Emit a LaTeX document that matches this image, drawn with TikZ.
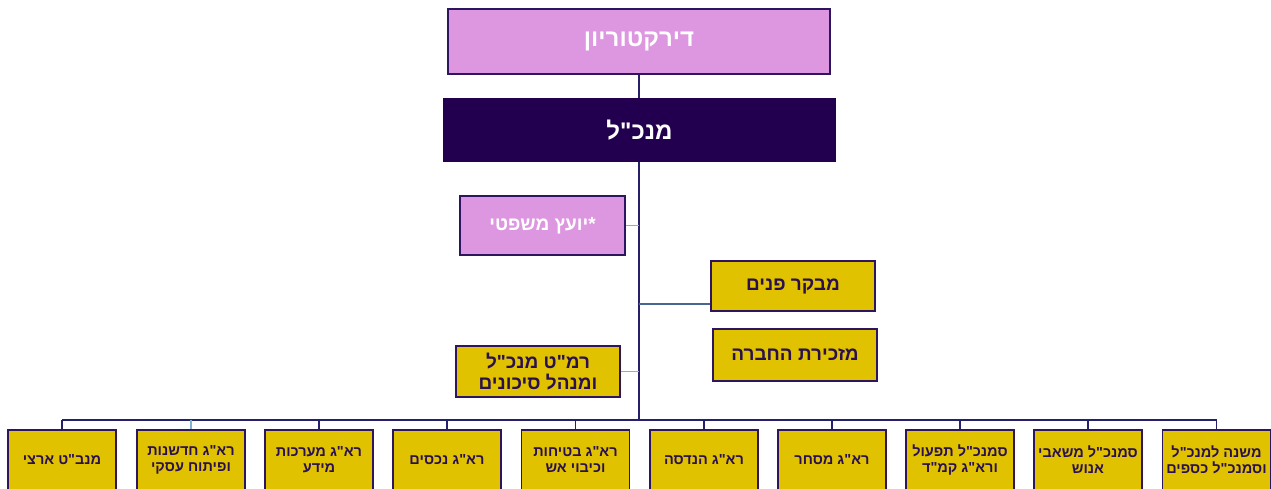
\documentclass[tikz,border=0pt]{standalone}
\usepackage{fontspec}
\newfontfamily\hebfont[Script=Hebrew]{Liberation Sans}
\TeXXeTstate=1
\definecolor{pinkfill}{HTML}{DD96E0}
\definecolor{ceofill}{HTML}{22004F}
\definecolor{goldfill}{HTML}{E0C200}
\definecolor{boxline}{HTML}{2E1560}
\definecolor{navy}{HTML}{26206A}
\definecolor{lightblue}{HTML}{82B0D2}
\definecolor{steel}{HTML}{4A6494}
\definecolor{txtdark}{HTML}{2A1050}
\tikzset{
  box/.style={draw=boxline, line width=1.6pt, inner sep=0pt, align=center, font=\hebfont\bfseries},
  pinkbox/.style={box, fill=pinkfill, text=white},
  goldbox/.style={box, fill=goldfill, text=txtdark},
  unitbox/.style={goldbox, minimum width=108, minimum height=60, font=\hebfont\bfseries\fontsize{14.5}{16}\selectfont},
  midbox/.style={font=\hebfont\bfseries\fontsize{19}{21.5}\selectfont},
  mainline/.style={draw=navy, line width=2pt},
  lightline/.style={draw=lightblue, line width=1.8pt},
}
\begin{document}
\begin{tikzpicture}[x=1pt,y=-1pt]
\useasboundingbox (0,0) rectangle (1271,488);
\clip (0,0) rectangle (1271,488);
% top
\node[pinkbox, minimum width=382, minimum height=65, font=\hebfont\bfseries\fontsize{24}{28}\selectfont] (dir) at (639,41.5) {\beginR דירקטוריון\endR};
\node[box, fill=ceofill, text=white, draw=ceofill, minimum width=391, minimum height=62, font=\hebfont\bfseries\fontsize{24}{28}\selectfont] (ceo) at (639.5,130) {\beginR מנכ"ל\endR};
% staff
\node[pinkbox, midbox, minimum width=165, minimum height=59] (legal) at (542.5,225.5) {\beginR *יועץ משפטי\endR};
\node[goldbox, midbox, minimum width=164, minimum height=50] (audit) at (793,286) {\beginR מבקר פנים\endR};
\node[goldbox, midbox, minimum width=164, minimum height=52] (sec) at (795,355) {\beginR מזכירת החברה\endR};
\node[goldbox, midbox, minimum width=164, minimum height=51] (cos) at (538,371.5) {\beginR רמ"ט מנכ"ל\endR\\\beginR ומנהל סיכונים\endR};
% bottom units
\node[unitbox] (b1) at (62,460) {\beginR מנב"ט ארצי\endR};
\node[unitbox] (b2) at (191,460) {\beginR רא"ג חדשנות\endR\\\beginR ופיתוח עסקי\endR};
\node[unitbox] (b3) at (319,460) {\beginR רא"ג מערכות\endR\\\beginR מידע\endR};
\node[unitbox] (b4) at (447,460) {\beginR רא"ג נכסים\endR};
\node[unitbox] (b5) at (575.5,460) {\beginR רא"ג בטיחות\endR\\\beginR וכיבוי אש\endR};
\node[unitbox] (b6) at (704,460) {\beginR רא"ג הנדסה\endR};
\node[unitbox] (b7) at (832,460) {\beginR רא"ג מסחר\endR};
\node[unitbox] (b8) at (960,460) {\beginR סמנכ"ל תפעול\endR\\\beginR ורא"ג קמ"ד\endR};
\node[unitbox] (b9) at (1088,460) {\beginR סמנכ"ל משאבי\endR\\\beginR אנוש\endR};
\node[unitbox] (b10) at (1216.5,460) {\beginR משנה למנכ"ל\endR\\\beginR וסמנכ"ל כספים\endR};
% connectors
\coordinate (bus) at (639,420);
\draw[mainline] (dir.south) -- (dir.south |- ceo.north);
\draw[mainline] (ceo.south -| bus) -- (bus);
\draw[lightline] (legal.east) -- (legal.east -| bus);
\draw[lightline] (cos.east) -- (cos.east -| bus);
\draw[draw=steel, line width=2pt] ([yshift=8pt]audit.south west) -- ([yshift=8pt]audit.south west -| bus);
\draw[mainline, line width=1.8pt] (b1.north |- bus) -- (b10.north |- bus);
\foreach \b in {b1,b3,b4,b5,b6,b7,b8,b9,b10}{
  \draw[mainline, line width=1.8pt] (\b.north) -- (\b.north |- bus);
}
\draw[lightline] (b2.north) -- (b2.north |- bus);
\end{tikzpicture}
\end{document}
